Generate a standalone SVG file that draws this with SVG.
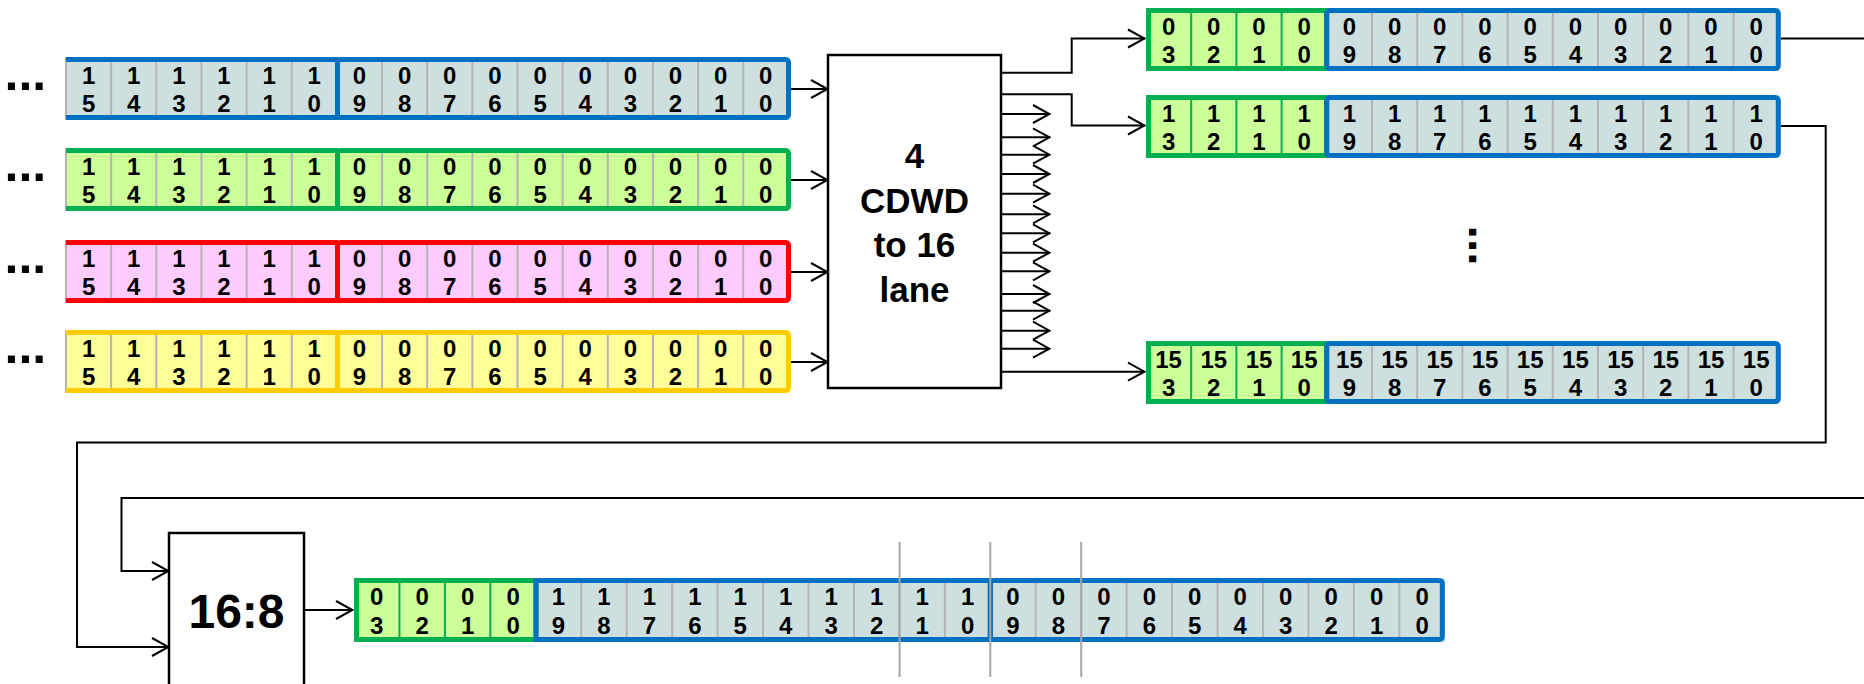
<svg xmlns="http://www.w3.org/2000/svg" xmlns:xlink="http://www.w3.org/1999/xlink" width="1864" height="684" viewBox="0 0 1864 684">
<style>
text{font-family:"Liberation Sans",Arial,sans-serif;font-weight:bold;fill:#000}
.c{font-size:24px;text-anchor:middle}
.dots{font-size:50px}
.big{font-size:35px;text-anchor:middle}
.huge{font-size:48px;text-anchor:middle}
.sep{stroke:#b4b4b4;stroke-width:2;fill:none}
.gsep{stroke:#00b050;stroke-width:2;fill:none}
.conn path{stroke:#000;stroke-width:2;fill:none}
.box{fill:#fff;stroke:#000;stroke-width:2.5}
.vl{stroke:#a6a6a6;stroke-width:2}
</style>
<defs>
<marker id="ah" markerUnits="userSpaceOnUse" viewBox="0 0 19 22" refX="18" refY="11" markerWidth="19" markerHeight="22" orient="auto">
<path d="M1,2 L17.5,11 L1,20" fill="none" stroke="#000" stroke-width="2"/>
</marker>
<path id="sepIn" class="sep" d="M66,0v63M111.15,0v63M156.3,0v63M201.45,0v63M246.6,0v63M291.75,0v63M382.05,0v63M427.2,0v63M472.35,0v63M517.5,0v63M562.65,0v63M607.8,0v63M652.95,0v63M698.1,0v63M743.25,0v63"/>
<path id="sepOutB" class="sep" d="M1372,0v63M1417.2,0v63M1462.4,0v63M1507.6,0v63M1552.8,0v63M1598,0v63M1643.2,0v63M1688.4,0v63M1733.6,0v63"/>
<path id="sepOutG" class="gsep" d="M1191.2,0v63M1236.4,0v63M1281.6,0v63"/>
</defs>

<!-- input row 1 (blue) -->
<g id="in-row-1">
<text class="dots" x="4.5" y="90">...</text>
<rect x="66" y="57" width="723" height="63" fill="#cde0df"/>
<use xlink:href="#sepIn" y="57"/>
<path d="M66,59.5H338M66,117.5H338" stroke="#0070c0" stroke-width="5"/>
<rect x="337.5" y="59.5" width="451" height="58" rx="3" fill="none" stroke="#0070c0" stroke-width="5"/>
<text class="c" x="88.6" y="84">1<tspan x="88.6" dy="28">5</tspan></text>
<text class="c" x="133.7" y="84">1<tspan x="133.7" dy="28">4</tspan></text>
<text class="c" x="178.9" y="84">1<tspan x="178.9" dy="28">3</tspan></text>
<text class="c" x="224" y="84">1<tspan x="224" dy="28">2</tspan></text>
<text class="c" x="269.2" y="84">1<tspan x="269.2" dy="28">1</tspan></text>
<text class="c" x="314.3" y="84">1<tspan x="314.3" dy="28">0</tspan></text>
<text class="c" x="359.5" y="84">0<tspan x="359.5" dy="28">9</tspan></text>
<text class="c" x="404.6" y="84">0<tspan x="404.6" dy="28">8</tspan></text>
<text class="c" x="449.8" y="84">0<tspan x="449.8" dy="28">7</tspan></text>
<text class="c" x="494.9" y="84">0<tspan x="494.9" dy="28">6</tspan></text>
<text class="c" x="540.1" y="84">0<tspan x="540.1" dy="28">5</tspan></text>
<text class="c" x="585.2" y="84">0<tspan x="585.2" dy="28">4</tspan></text>
<text class="c" x="630.4" y="84">0<tspan x="630.4" dy="28">3</tspan></text>
<text class="c" x="675.5" y="84">0<tspan x="675.5" dy="28">2</tspan></text>
<text class="c" x="720.7" y="84">0<tspan x="720.7" dy="28">1</tspan></text>
<text class="c" x="765.8" y="84">0<tspan x="765.8" dy="28">0</tspan></text>
</g>

<!-- input row 2 (green) -->
<g id="in-row-2">
<text class="dots" x="4.5" y="181">...</text>
<rect x="66" y="148" width="723" height="63" fill="#ccff99"/>
<use xlink:href="#sepIn" y="148"/>
<path d="M66,150.5H338M66,208.5H338" stroke="#00b050" stroke-width="5"/>
<rect x="337.5" y="150.5" width="451" height="58" rx="3" fill="none" stroke="#00b050" stroke-width="5"/>
<text class="c" x="88.6" y="175">1<tspan x="88.6" dy="28">5</tspan></text>
<text class="c" x="133.7" y="175">1<tspan x="133.7" dy="28">4</tspan></text>
<text class="c" x="178.9" y="175">1<tspan x="178.9" dy="28">3</tspan></text>
<text class="c" x="224" y="175">1<tspan x="224" dy="28">2</tspan></text>
<text class="c" x="269.2" y="175">1<tspan x="269.2" dy="28">1</tspan></text>
<text class="c" x="314.3" y="175">1<tspan x="314.3" dy="28">0</tspan></text>
<text class="c" x="359.5" y="175">0<tspan x="359.5" dy="28">9</tspan></text>
<text class="c" x="404.6" y="175">0<tspan x="404.6" dy="28">8</tspan></text>
<text class="c" x="449.8" y="175">0<tspan x="449.8" dy="28">7</tspan></text>
<text class="c" x="494.9" y="175">0<tspan x="494.9" dy="28">6</tspan></text>
<text class="c" x="540.1" y="175">0<tspan x="540.1" dy="28">5</tspan></text>
<text class="c" x="585.2" y="175">0<tspan x="585.2" dy="28">4</tspan></text>
<text class="c" x="630.4" y="175">0<tspan x="630.4" dy="28">3</tspan></text>
<text class="c" x="675.5" y="175">0<tspan x="675.5" dy="28">2</tspan></text>
<text class="c" x="720.7" y="175">0<tspan x="720.7" dy="28">1</tspan></text>
<text class="c" x="765.8" y="175">0<tspan x="765.8" dy="28">0</tspan></text>
</g>

<!-- input row 3 (red) -->
<g id="in-row-3">
<text class="dots" x="4.5" y="273">...</text>
<rect x="66" y="240" width="723" height="63" fill="#ffccff"/>
<use xlink:href="#sepIn" y="240"/>
<path d="M66,242.5H338M66,300.5H338" stroke="#ff0000" stroke-width="5"/>
<rect x="337.5" y="242.5" width="451" height="58" rx="3" fill="none" stroke="#ff0000" stroke-width="5"/>
<text class="c" x="88.6" y="267">1<tspan x="88.6" dy="28">5</tspan></text>
<text class="c" x="133.7" y="267">1<tspan x="133.7" dy="28">4</tspan></text>
<text class="c" x="178.9" y="267">1<tspan x="178.9" dy="28">3</tspan></text>
<text class="c" x="224" y="267">1<tspan x="224" dy="28">2</tspan></text>
<text class="c" x="269.2" y="267">1<tspan x="269.2" dy="28">1</tspan></text>
<text class="c" x="314.3" y="267">1<tspan x="314.3" dy="28">0</tspan></text>
<text class="c" x="359.5" y="267">0<tspan x="359.5" dy="28">9</tspan></text>
<text class="c" x="404.6" y="267">0<tspan x="404.6" dy="28">8</tspan></text>
<text class="c" x="449.8" y="267">0<tspan x="449.8" dy="28">7</tspan></text>
<text class="c" x="494.9" y="267">0<tspan x="494.9" dy="28">6</tspan></text>
<text class="c" x="540.1" y="267">0<tspan x="540.1" dy="28">5</tspan></text>
<text class="c" x="585.2" y="267">0<tspan x="585.2" dy="28">4</tspan></text>
<text class="c" x="630.4" y="267">0<tspan x="630.4" dy="28">3</tspan></text>
<text class="c" x="675.5" y="267">0<tspan x="675.5" dy="28">2</tspan></text>
<text class="c" x="720.7" y="267">0<tspan x="720.7" dy="28">1</tspan></text>
<text class="c" x="765.8" y="267">0<tspan x="765.8" dy="28">0</tspan></text>
</g>

<!-- input row 4 (yellow) -->
<g id="in-row-4">
<text class="dots" x="4.5" y="363">...</text>
<rect x="66" y="330" width="723" height="63" fill="#ffff99"/>
<use xlink:href="#sepIn" y="330"/>
<path d="M66,332.5H338M66,390.5H338" stroke="#ffcc00" stroke-width="5"/>
<rect x="337.5" y="332.5" width="451" height="58" rx="3" fill="none" stroke="#ffcc00" stroke-width="5"/>
<text class="c" x="88.6" y="357">1<tspan x="88.6" dy="28">5</tspan></text>
<text class="c" x="133.7" y="357">1<tspan x="133.7" dy="28">4</tspan></text>
<text class="c" x="178.9" y="357">1<tspan x="178.9" dy="28">3</tspan></text>
<text class="c" x="224" y="357">1<tspan x="224" dy="28">2</tspan></text>
<text class="c" x="269.2" y="357">1<tspan x="269.2" dy="28">1</tspan></text>
<text class="c" x="314.3" y="357">1<tspan x="314.3" dy="28">0</tspan></text>
<text class="c" x="359.5" y="357">0<tspan x="359.5" dy="28">9</tspan></text>
<text class="c" x="404.6" y="357">0<tspan x="404.6" dy="28">8</tspan></text>
<text class="c" x="449.8" y="357">0<tspan x="449.8" dy="28">7</tspan></text>
<text class="c" x="494.9" y="357">0<tspan x="494.9" dy="28">6</tspan></text>
<text class="c" x="540.1" y="357">0<tspan x="540.1" dy="28">5</tspan></text>
<text class="c" x="585.2" y="357">0<tspan x="585.2" dy="28">4</tspan></text>
<text class="c" x="630.4" y="357">0<tspan x="630.4" dy="28">3</tspan></text>
<text class="c" x="675.5" y="357">0<tspan x="675.5" dy="28">2</tspan></text>
<text class="c" x="720.7" y="357">0<tspan x="720.7" dy="28">1</tspan></text>
<text class="c" x="765.8" y="357">0<tspan x="765.8" dy="28">0</tspan></text>
</g>

<!-- converter box -->
<g id="cdwd-box">
<rect class="box" x="828" y="55" width="173" height="333"/>
<text class="big" x="914.5" y="168">4</text>
<text class="big" x="914.5" y="212.5">CDWD</text>
<text class="big" x="914.5" y="257">to 16</text>
<text class="big" x="914.5" y="301.5">lane</text>
</g>

<!-- output lane 0 -->
<g id="out-lane-0">
<rect x="1146" y="8" width="181" height="63" fill="#ccff99"/>
<rect x="1327" y="8" width="452" height="63" fill="#cde0df"/>
<use xlink:href="#sepOutG" y="8"/>
<use xlink:href="#sepOutB" y="8"/>
<rect x="1148.5" y="10.5" width="178" height="58" fill="none" stroke="#00b050" stroke-width="5"/>
<rect x="1326.8" y="10.5" width="451.5" height="58" rx="3" fill="none" stroke="#0070c0" stroke-width="5"/>
<text class="c" x="1168.6" y="35">0<tspan x="1168.6" dy="28">3</tspan></text>
<text class="c" x="1213.8" y="35">0<tspan x="1213.8" dy="28">2</tspan></text>
<text class="c" x="1259" y="35">0<tspan x="1259" dy="28">1</tspan></text>
<text class="c" x="1304.2" y="35">0<tspan x="1304.2" dy="28">0</tspan></text>
<text class="c" x="1349.4" y="35">0<tspan x="1349.4" dy="28">9</tspan></text>
<text class="c" x="1394.6" y="35">0<tspan x="1394.6" dy="28">8</tspan></text>
<text class="c" x="1439.8" y="35">0<tspan x="1439.8" dy="28">7</tspan></text>
<text class="c" x="1485" y="35">0<tspan x="1485" dy="28">6</tspan></text>
<text class="c" x="1530.2" y="35">0<tspan x="1530.2" dy="28">5</tspan></text>
<text class="c" x="1575.4" y="35">0<tspan x="1575.4" dy="28">4</tspan></text>
<text class="c" x="1620.6" y="35">0<tspan x="1620.6" dy="28">3</tspan></text>
<text class="c" x="1665.8" y="35">0<tspan x="1665.8" dy="28">2</tspan></text>
<text class="c" x="1711" y="35">0<tspan x="1711" dy="28">1</tspan></text>
<text class="c" x="1756.2" y="35">0<tspan x="1756.2" dy="28">0</tspan></text>
</g>

<!-- output lane 1 -->
<g id="out-lane-1">
<rect x="1146" y="95" width="181" height="63" fill="#ccff99"/>
<rect x="1327" y="95" width="452" height="63" fill="#cde0df"/>
<use xlink:href="#sepOutG" y="95"/>
<use xlink:href="#sepOutB" y="95"/>
<rect x="1148.5" y="97.5" width="178" height="58" fill="none" stroke="#00b050" stroke-width="5"/>
<rect x="1326.8" y="97.5" width="451.5" height="58" rx="3" fill="none" stroke="#0070c0" stroke-width="5"/>
<text class="c" x="1168.6" y="122">1<tspan x="1168.6" dy="28">3</tspan></text>
<text class="c" x="1213.8" y="122">1<tspan x="1213.8" dy="28">2</tspan></text>
<text class="c" x="1259" y="122">1<tspan x="1259" dy="28">1</tspan></text>
<text class="c" x="1304.2" y="122">1<tspan x="1304.2" dy="28">0</tspan></text>
<text class="c" x="1349.4" y="122">1<tspan x="1349.4" dy="28">9</tspan></text>
<text class="c" x="1394.6" y="122">1<tspan x="1394.6" dy="28">8</tspan></text>
<text class="c" x="1439.8" y="122">1<tspan x="1439.8" dy="28">7</tspan></text>
<text class="c" x="1485" y="122">1<tspan x="1485" dy="28">6</tspan></text>
<text class="c" x="1530.2" y="122">1<tspan x="1530.2" dy="28">5</tspan></text>
<text class="c" x="1575.4" y="122">1<tspan x="1575.4" dy="28">4</tspan></text>
<text class="c" x="1620.6" y="122">1<tspan x="1620.6" dy="28">3</tspan></text>
<text class="c" x="1665.8" y="122">1<tspan x="1665.8" dy="28">2</tspan></text>
<text class="c" x="1711" y="122">1<tspan x="1711" dy="28">1</tspan></text>
<text class="c" x="1756.2" y="122">1<tspan x="1756.2" dy="28">0</tspan></text>
</g>

<!-- vertical ellipsis -->
<g id="vdots">
<text class="dots" style="font-size:48px" transform="translate(1469,225.6) rotate(90)">...</text>
</g>

<!-- output lane 15 -->
<g id="out-lane-15">
<rect x="1146" y="341" width="181" height="63" fill="#ccff99"/>
<rect x="1327" y="341" width="452" height="63" fill="#cde0df"/>
<use xlink:href="#sepOutG" y="341"/>
<use xlink:href="#sepOutB" y="341"/>
<rect x="1148.5" y="343.5" width="178" height="58" fill="none" stroke="#00b050" stroke-width="5"/>
<rect x="1326.8" y="343.5" width="451.5" height="58" rx="3" fill="none" stroke="#0070c0" stroke-width="5"/>
<text class="c" x="1168.6" y="368">15<tspan x="1168.6" dy="28">3</tspan></text>
<text class="c" x="1213.8" y="368">15<tspan x="1213.8" dy="28">2</tspan></text>
<text class="c" x="1259" y="368">15<tspan x="1259" dy="28">1</tspan></text>
<text class="c" x="1304.2" y="368">15<tspan x="1304.2" dy="28">0</tspan></text>
<text class="c" x="1349.4" y="368">15<tspan x="1349.4" dy="28">9</tspan></text>
<text class="c" x="1394.6" y="368">15<tspan x="1394.6" dy="28">8</tspan></text>
<text class="c" x="1439.8" y="368">15<tspan x="1439.8" dy="28">7</tspan></text>
<text class="c" x="1485" y="368">15<tspan x="1485" dy="28">6</tspan></text>
<text class="c" x="1530.2" y="368">15<tspan x="1530.2" dy="28">5</tspan></text>
<text class="c" x="1575.4" y="368">15<tspan x="1575.4" dy="28">4</tspan></text>
<text class="c" x="1620.6" y="368">15<tspan x="1620.6" dy="28">3</tspan></text>
<text class="c" x="1665.8" y="368">15<tspan x="1665.8" dy="28">2</tspan></text>
<text class="c" x="1711" y="368">15<tspan x="1711" dy="28">1</tspan></text>
<text class="c" x="1756.2" y="368">15<tspan x="1756.2" dy="28">0</tspan></text>
</g>

<!-- 16:8 box -->
<g id="mux-box">
<rect class="box" x="169" y="533" width="135" height="170"/>
<text class="huge" x="236.5" y="628">16:8</text>
</g>

<!-- result row -->
<g id="result-row">
<rect x="354" y="578" width="182" height="64" fill="#ccff99"/>
<rect x="536" y="578" width="909" height="64" fill="#cde0df"/>
<path class="gsep" d="M399.45,578v64M444.9,578v64M490.35,578v64"/>
<path class="sep" d="M581.25,578v64M626.7,578v64M672.15,578v64M717.6,578v64M763.05,578v64M808.5,578v64M853.95,578v64M899.4,578v64M944.85,578v64M1035.75,578v64M1081.2,578v64M1126.65,578v64M1172.1,578v64M1217.55,578v64M1263,578v64M1308.45,578v64M1353.9,578v64M1399.35,578v64"/>
<rect x="356.5" y="580.5" width="179.5" height="59" fill="none" stroke="#00b050" stroke-width="5"/>
<rect x="536" y="580.5" width="454.3" height="59" fill="none" stroke="#0070c0" stroke-width="5"/>
<rect x="990.3" y="580.5" width="452" height="59" rx="3" fill="none" stroke="#0070c0" stroke-width="5"/>
<text class="c" x="376.7" y="605">0<tspan x="376.7" dy="29">3</tspan></text>
<text class="c" x="422.2" y="605">0<tspan x="422.2" dy="29">2</tspan></text>
<text class="c" x="467.6" y="605">0<tspan x="467.6" dy="29">1</tspan></text>
<text class="c" x="513.1" y="605">0<tspan x="513.1" dy="29">0</tspan></text>
<text class="c" x="558.5" y="605">1<tspan x="558.5" dy="29">9</tspan></text>
<text class="c" x="604" y="605">1<tspan x="604" dy="29">8</tspan></text>
<text class="c" x="649.4" y="605">1<tspan x="649.4" dy="29">7</tspan></text>
<text class="c" x="694.9" y="605">1<tspan x="694.9" dy="29">6</tspan></text>
<text class="c" x="740.3" y="605">1<tspan x="740.3" dy="29">5</tspan></text>
<text class="c" x="785.8" y="605">1<tspan x="785.8" dy="29">4</tspan></text>
<text class="c" x="831.2" y="605">1<tspan x="831.2" dy="29">3</tspan></text>
<text class="c" x="876.7" y="605">1<tspan x="876.7" dy="29">2</tspan></text>
<text class="c" x="922.1" y="605">1<tspan x="922.1" dy="29">1</tspan></text>
<text class="c" x="967.6" y="605">1<tspan x="967.6" dy="29">0</tspan></text>
<text class="c" x="1013" y="605">0<tspan x="1013" dy="29">9</tspan></text>
<text class="c" x="1058.5" y="605">0<tspan x="1058.5" dy="29">8</tspan></text>
<text class="c" x="1103.9" y="605">0<tspan x="1103.9" dy="29">7</tspan></text>
<text class="c" x="1149.4" y="605">0<tspan x="1149.4" dy="29">6</tspan></text>
<text class="c" x="1194.8" y="605">0<tspan x="1194.8" dy="29">5</tspan></text>
<text class="c" x="1240.3" y="605">0<tspan x="1240.3" dy="29">4</tspan></text>
<text class="c" x="1285.7" y="605">0<tspan x="1285.7" dy="29">3</tspan></text>
<text class="c" x="1331.2" y="605">0<tspan x="1331.2" dy="29">2</tspan></text>
<text class="c" x="1376.6" y="605">0<tspan x="1376.6" dy="29">1</tspan></text>
<text class="c" x="1422.1" y="605">0<tspan x="1422.1" dy="29">0</tspan></text>
<path class="vl" d="M899.6,542V677M990.3,542V677M1081.2,542V677"/>
</g>

<!-- connectors -->
<g id="connectors" class="conn">
<path marker-end="url(#ah)" d="M791,89H828"/>
<path marker-end="url(#ah)" d="M791,180H828"/>
<path marker-end="url(#ah)" d="M791,272H828"/>
<path marker-end="url(#ah)" d="M791,362H828"/>
<path marker-end="url(#ah)" d="M1001,72.7H1071.7V38.5H1145"/>
<path marker-end="url(#ah)" d="M1001,94.3H1071.7V125.5H1145"/>
<path marker-end="url(#ah)" d="M1001,114H1050"/>
<path marker-end="url(#ah)" d="M1001,137.3H1050"/>
<path marker-end="url(#ah)" d="M1001,154.7H1050"/>
<path marker-end="url(#ah)" d="M1001,174H1050"/>
<path marker-end="url(#ah)" d="M1001,193.7H1050"/>
<path marker-end="url(#ah)" d="M1001,214.3H1050"/>
<path marker-end="url(#ah)" d="M1001,233.3H1050"/>
<path marker-end="url(#ah)" d="M1001,252.7H1050"/>
<path marker-end="url(#ah)" d="M1001,271.3H1050"/>
<path marker-end="url(#ah)" d="M1001,294H1050"/>
<path marker-end="url(#ah)" d="M1001,310.7H1050"/>
<path marker-end="url(#ah)" d="M1001,330.7H1050"/>
<path marker-end="url(#ah)" d="M1001,348.7H1050"/>
<path marker-end="url(#ah)" d="M1001,371.7H1145"/>
<path d="M1781,38.5H1864"/>
<path marker-end="url(#ah)" d="M1781,126H1825.7V442.5H77V647H169"/>
<path marker-end="url(#ah)" d="M1864,498H121.5V571H169"/>
<path marker-end="url(#ah)" d="M304,610H353"/>
</g>
</svg>
